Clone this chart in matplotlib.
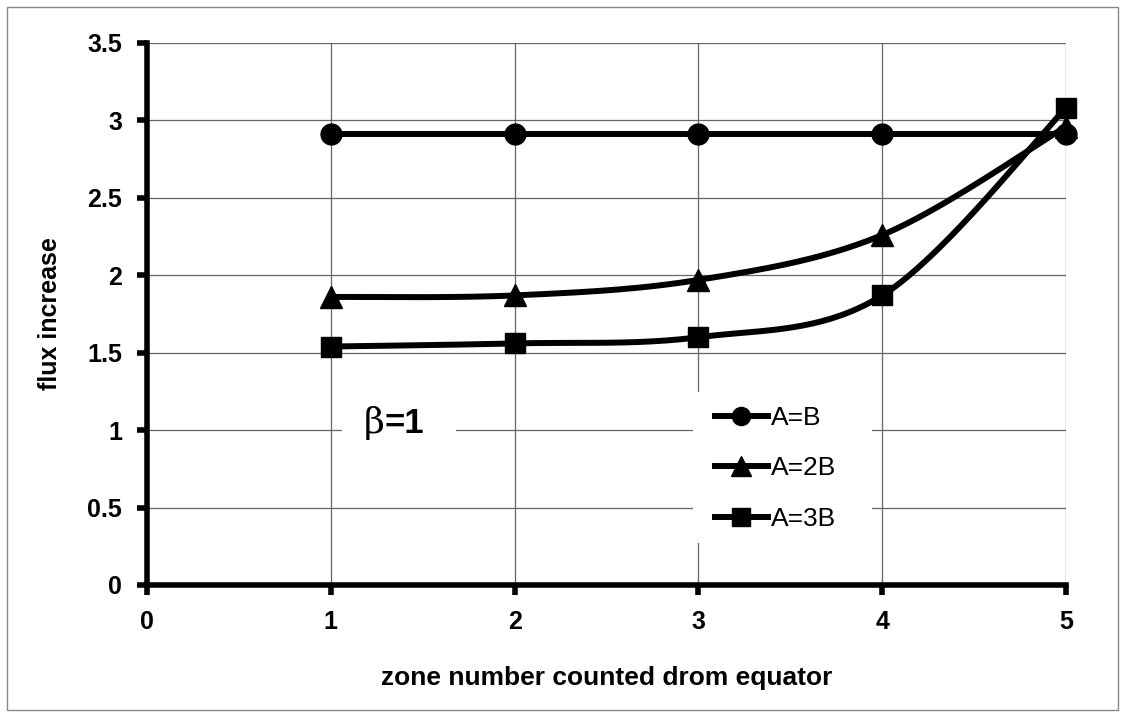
import numpy as np
import matplotlib
matplotlib.use("Agg")
import matplotlib.pyplot as plt
from matplotlib.patches import Rectangle
from matplotlib.lines import Line2D

zones = [1, 2, 3, 4, 5]
a_eq_b = [2.91, 2.91, 2.91, 2.91, 2.91]
a_eq_2b = [1.86, 1.87, 1.97, 2.26, 2.96]
a_eq_3b = [1.54, 1.56, 1.60, 1.87, 3.08]
series_labels = ["A=B", "A=2B", "A=3B"]
markers = ["o", "^", "s"]
x_ticks = [0, 1, 2, 3, 4, 5]
y_ticks = [0, 0.5, 1, 1.5, 2, 2.5, 3, 3.5]
y_tick_labels = ["0", "0.5", "1", "1.5", "2", "2.5", "3", "3.5"]

plt.rcParams['font.family'] = ['Liberation Sans', 'DejaVu Sans']

W, H = 1126, 719
L, R, T, B = 147, 1066, 43, 585


def ax_frac(px, py):
    return (px - L) / (R - L), (B - py) / (B - T)


def smooth(x, y, n=40):
    # Excel-like smoothed line: cubic Bezier through points, Catmull-Rom tangents
    x = np.asarray(x, float); y = np.asarray(y, float)
    xs, ys = [], []
    m = len(x)
    for i in range(m - 1):
        p0 = np.array([x[max(i - 1, 0)], y[max(i - 1, 0)]])
        p1 = np.array([x[i], y[i]])
        p2 = np.array([x[i + 1], y[i + 1]])
        p3 = np.array([x[min(i + 2, m - 1)], y[min(i + 2, m - 1)]])
        c1 = p1 + (p2 - p0) / 6.0
        c2 = p2 - (p3 - p1) / 6.0
        t = np.linspace(0, 1, n)[:, None]
        pts = ((1 - t) ** 3) * p1 + 3 * ((1 - t) ** 2) * t * c1 + 3 * (1 - t) * t ** 2 * c2 + t ** 3 * p2
        xs.extend(pts[:, 0]); ys.extend(pts[:, 1])
    return np.array(xs), np.array(ys)


fig = plt.figure(figsize=(W / 100, H / 100), dpi=100)
fig.patches.append(Rectangle((6.5 / W, 9.5 / H), 1111 / W, 703 / H, transform=fig.transFigure,
                             fill=False, edgecolor='#888888', linewidth=1))
ax = fig.add_axes([L / W, (H - B) / H, (R - L) / W, (B - T) / H])
ax.set_xlim(0, 5)
ax.set_ylim(0, 3.5)
ax.set_xticks(x_ticks)
ax.set_yticks(y_ticks)
ax.set_yticklabels(y_tick_labels)
ax.grid(True, color='#666666', linewidth=0.9)
ax.set_axisbelow(True)
for s in ['top', 'right']:
    ax.spines[s].set_visible(False)
for s in ['left', 'bottom']:
    ax.spines[s].set_linewidth(4.0)
    ax.spines[s].set_color('black')
ax.tick_params(axis='both', direction='out', length=7, width=4.0, labelsize=18, pad=11)
for lab in ax.get_xticklabels() + ax.get_yticklabels():
    lab.set_fontweight('bold')

msizes = [15, 16.5, 14.5]
for ys, mk, m in zip([a_eq_b, a_eq_2b, a_eq_3b], markers, msizes):
    sx, sy = smooth(zones, ys)
    ax.plot(sx, sy, color='black', linewidth=4.3, solid_capstyle='round', zorder=3, clip_on=False)
    ax.plot(zones, ys, linestyle='none', marker=mk, markersize=m, color='black', zorder=4, clip_on=False)

# legend (white box without border)
x0, y0 = ax_frac(693, 543)
x1, y1 = ax_frac(872, 392)
ax.add_patch(Rectangle((x0, y0), x1 - x0, y1 - y0, transform=ax.transAxes, facecolor='white',
                       edgecolor='none', zorder=1))
handles = [Line2D([], [], color='black', linewidth=4.3, marker=mk, markersize=m - 2)
           for mk, m in zip(markers, msizes)]
lx, ly = ax_frac(715, 406)
leg = ax.legend(handles, series_labels, loc='upper left', bbox_to_anchor=(lx, ly), frameon=False,
                fontsize=19, handlelength=2.0, handletextpad=0.12, borderpad=0, labelspacing=1.0,
                borderaxespad=0)
leg.set_zorder(5)

# beta label with white background
bx0, by0 = ax_frac(342, 456)
bx1, by1 = ax_frac(456, 404)
ax.add_patch(Rectangle((bx0, by0), bx1 - bx0, by1 - by0, transform=ax.transAxes, facecolor='white',
                       edgecolor='none', zorder=1))
tx, ty = ax_frac(385, 433)
ax.text(tx, ty, "β", transform=ax.transAxes, fontsize=26, family='DejaVu Serif',
        ha='right', va='baseline', zorder=5)
ax.text(tx, ty, "=1", transform=ax.transAxes, fontsize=25, fontweight='bold',
        ha='left', va='baseline', zorder=5)

ax.set_ylabel("flux increase", fontsize=18, fontweight='bold', labelpad=18)
ax.set_xlabel("zone number counted drom equator", fontsize=19, fontweight='bold', labelpad=23)

fig.savefig("out.png", dpi=100)
